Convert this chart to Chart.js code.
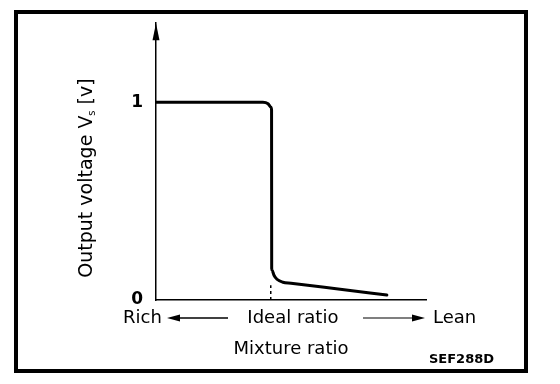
<!DOCTYPE html>
<html>
<head>
<meta charset="utf-8">
<script src="https://cdn.jsdelivr.net/npm/chart.js@4/dist/chart.umd.min.js"></script>
<style>
  html, body { margin: 0; padding: 0; background: #fff; }
  #frame { position: absolute; left: 14px; top: 10px; width: 514px; height: 363px; border: 4px solid #000; box-sizing: border-box; }
  #c { position: absolute; left: 0; top: 0; }
</style>
</head>
<body>
<div id="frame"></div>
<canvas id="c" width="560" height="384"></canvas>
<script>
// ---- data (x: mixture ratio in arbitrary units, y: output voltage in V) ----
const curveX = [0, 39.6, 41.5, 42.6, 42.8, 42.85, 43.0, 43.7, 44.8, 47.0, 50.0, 66.0, 85.5];
const curveY = [1.0, 1.0, 0.9925, 0.975, 0.96, 0.16, 0.15, 0.125, 0.105, 0.09, 0.085, 0.058, 0.025];
const idealX = [42.5, 42.5];
const idealY = [0, 0.075];
const yTickValues = [0, 1];
const yTitleMain = 'Output voltage V';
const yTitleSub = 's';
const yTitleTail = ' [v]';
const xTitle = 'Mixture ratio';
const richLabel = 'Rich';
const idealLabel = 'Ideal ratio';
const leanLabel = 'Lean';
const codeLabel = 'SEF288D';

const FONT = "'DejaVu Sans', sans-serif";
const IDEAL_LABEL_AT = 50.7;

const annotations = {
  id: 'annotations',
  afterDraw(chart) {
    const ctx = chart.ctx;
    const xs = chart.scales.x;
    const ax = xs.left;
    const top = chart.chartArea.top;
    ctx.save();
    ctx.fillStyle = '#000';
    ctx.strokeStyle = '#000';
    // y-axis arrow head
    ctx.beginPath();
    ctx.moveTo(ax, top);
    ctx.lineTo(ax - 3.5, top + 17);
    ctx.lineTo(ax + 3.5, top + 17);
    ctx.closePath();
    ctx.fill();

    // y title with subscript
    ctx.save();
    ctx.translate(85, 178);
    ctx.rotate(-Math.PI / 2);
    const big = '19px ' + FONT, small = '10px ' + FONT;
    ctx.font = big;
    const w1 = ctx.measureText(yTitleMain).width;
    const w3 = ctx.measureText(yTitleTail).width;
    ctx.font = small;
    const w2 = ctx.measureText(yTitleSub).width;
    const x0 = -(w1 + w2 + w3) / 2;
    ctx.textBaseline = 'alphabetic';
    ctx.textAlign = 'left';
    ctx.font = big;
    ctx.fillText(yTitleMain, x0, 7);
    ctx.font = small;
    ctx.fillText(yTitleSub, x0 + w1, 10);
    ctx.font = big;
    ctx.fillText(yTitleTail, x0 + w1 + w2, 7);
    ctx.restore();

    // Rich / Ideal ratio / Lean row
    const rowY = 323;
    ctx.font = '18px ' + FONT;
    ctx.textBaseline = 'alphabetic';
    ctx.textAlign = 'left';
    ctx.fillText(richLabel, 123, rowY);
    ctx.textAlign = 'center';
    ctx.fillText(idealLabel, xs.getPixelForValue(IDEAL_LABEL_AT), rowY);
    ctx.textAlign = 'left';
    ctx.fillText(leanLabel, 433, rowY);

    // arrows
    const ay = 318;
    ctx.lineWidth = 1.5;
    ctx.beginPath();
    ctx.moveTo(176, ay); ctx.lineTo(228, ay);
    ctx.stroke();
    ctx.beginPath();
    ctx.moveTo(167, ay); ctx.lineTo(180, ay - 3.5); ctx.lineTo(180, ay + 3.5); ctx.closePath();
    ctx.fill();
    ctx.lineWidth = 1.2;
    ctx.beginPath();
    ctx.moveTo(363, ay); ctx.lineTo(416, ay);
    ctx.stroke();
    ctx.beginPath();
    ctx.moveTo(425, ay); ctx.lineTo(412, ay - 3.5); ctx.lineTo(412, ay + 3.5); ctx.closePath();
    ctx.fill();

    // figure code
    ctx.font = 'bold 13px ' + FONT;
    ctx.textAlign = 'left';
    ctx.fillText(codeLabel, 429, 363);
    ctx.restore();
  }
};

new Chart(document.getElementById('c'), {
  type: 'line',
  data: {
    datasets: [
      {
        data: curveX.map((x, i) => ({ x, y: curveY[i] })),
        borderColor: '#000',
        borderWidth: 3,
        pointRadius: 0,
        fill: false,
        cubicInterpolationMode: 'monotone',
        borderCapStyle: 'round',
        borderJoinStyle: 'round'
      },
      {
        data: idealX.map((x, i) => ({ x, y: idealY[i] })),
        borderColor: '#000',
        borderWidth: 1.5,
        borderDash: [3, 3],
        pointRadius: 0,
        fill: false
      }
    ]
  },
  options: {
    responsive: false,
    animation: false,
    layout: { padding: { top: 20, right: 134, left: 0, bottom: 0 } },
    plugins: { legend: { display: false }, tooltip: { enabled: false } },
    scales: {
      x: {
        type: 'linear',
        min: 0, max: 100,
        grid: { display: false, drawTicks: false },
        border: { display: true, color: '#000', width: 1.5 },
        ticks: { display: false },
        title: { display: true, text: xTitle, color: '#000', font: { family: FONT, size: 18 }, padding: { top: 0, bottom: 24 } },
        afterFit: s => { s.height = 84; }
      },
      y: {
        type: 'linear',
        min: 0, max: 1.4,
        grid: { display: false, drawTicks: false },
        border: { display: true, color: '#000', width: 1.5 },
        afterBuildTicks: s => { s.ticks = yTickValues.map(v => ({ value: v })); },
        ticks: { color: '#000', font: { family: FONT, size: 17, weight: 'bold' }, padding: 13, callback: v => String(v) },
        afterFit: s => { s.width = 156; }
      }
    }
  },
  plugins: [annotations]
});
</script>
</body>
</html>
